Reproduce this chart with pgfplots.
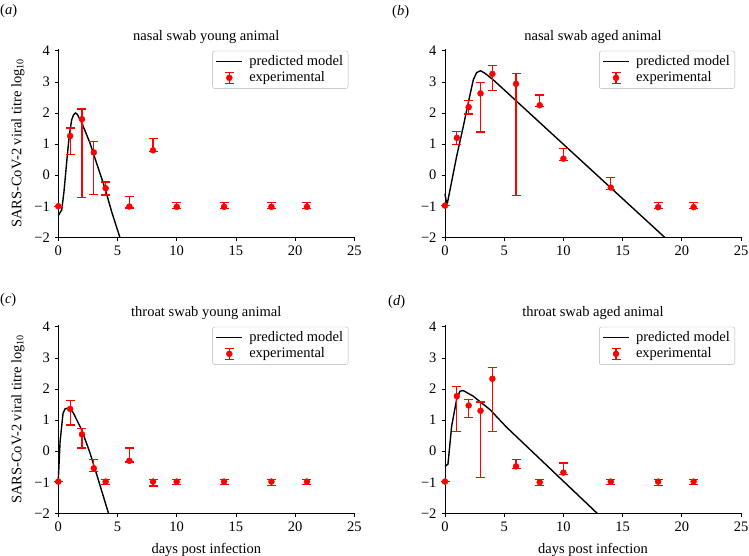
\documentclass[border=0pt]{standalone}
\usepackage{fontspec}
\setmainfont{Liberation Serif}
\usepackage{pgfplots}
\pgfplotsset{compat=1.18}
\usepackage{pgfplotstable}

% nasal swab young
\pgfplotstableread{
x y ep em
0 -1.00 0.00 0.00
1 1.26 0.26 0.59
2 1.80 0.33 2.53
3 0.73 0.36 1.35
4 -0.42 0.20 0.22
6 -1.01 0.32 0.05
8 0.80 0.38 0.05
10 -1.02 0.15 0.05
14 -1.02 0.15 0.05
18 -1.02 0.15 0.05
21 -1.02 0.15 0.05
}\dataA
\pgfplotstableread{
x y
0 -1.30
0.29 -1.12
0.48 -0.53
0.71 0.43
0.93 1.29
1.13 1.78
1.30 1.95
1.45 2.00
1.60 1.96
2.00 1.67
2.68 1.03
3.24 0.38
3.94 -0.42
4.51 -1.18
5.20 -2.00
}\modelA
% nasal swab aged
\pgfplotstableread{
x y ep em
0 -0.98 0.00 0.00
1 1.20 0.21 0.21
2 2.19 0.21 0.22
3 2.63 0.34 1.24
4 3.26 0.27 0.54
6 2.94 0.34 3.60
8 2.25 0.33 0.05
10 0.53 0.33 0.05
14 -0.40 0.32 0.05
18 -1.03 0.16 0.05
21 -1.03 0.16 0.05
}\dataB
\pgfplotstableread{
x y
0 -0.60
0.14 -0.92
0.20 -0.90
0.42 -0.48
0.98 0.60
1.54 1.56
1.96 2.32
2.39 3.07
2.67 3.30
3.00 3.36
3.37 3.28
4.07 3.07
18.55 -2.00
}\modelB
% throat swab young
\pgfplotstableread{
x y ep em
0 -0.98 0.00 0.00
1 1.36 0.28 0.52
2 0.54 0.20 0.44
3 -0.55 0.29 0.10
4 -0.98 0.08 0.09
6 -0.31 0.41 0.04
8 -0.98 0.08 0.14
10 -0.98 0.08 0.09
14 -0.98 0.08 0.09
18 -0.98 0.08 0.12
21 -0.98 0.08 0.09
}\dataC
\pgfplotstableread{
x y
0 -0.92
0.15 0.30
0.40 1.22
0.57 1.36
0.93 1.40
1.27 1.23
1.97 0.69
2.68 -0.06
3.38 -0.92
4.24 -2.00
}\modelC
% throat swab aged
\pgfplotstableread{
x y ep em
0 -0.98 0.00 0.00
1 1.77 0.30 1.15
2 1.47 0.19 0.38
3 1.30 0.28 2.14
4 2.33 0.36 1.69
6 -0.49 0.23 0.06
8 -1.00 0.08 0.10
10 -0.69 0.31 0.06
14 -0.98 0.08 0.10
18 -0.98 0.08 0.12
21 -0.98 0.08 0.09
}\dataD
\pgfplotstableread{
x y
0 -0.49
0.25 -0.42
0.56 0.80
0.98 1.66
1.26 1.93
1.54 1.95
2.38 1.77
3.79 1.34
5.20 0.77
7.16 0.06
12.85 -2.00
}\modelD

\pgfplotsset{
  myaxis/.style={
    scale only axis, width=296bp, height=188bp,
    xmin=0, xmax=25, ymin=-2, ymax=4.05,
    axis lines=left, axis line style={-, line width=0.8bp, black},
    tick align=outside, major tick length=3.5bp,
    tick style={black, line width=0.8bp},
    xtick={0,5,...,25}, xticklabels={0,5,10,15,20,25},
    ytick={-2,-1,0,1,2,3,4}, yticklabels={−2,−1,0,1,2,3,4},
    clip=false,
    title style={yshift=-5bp},
    xlabel style={yshift=-2bp},
    legend style={at={(1,1)}, anchor=north east, xshift=-6bp, yshift=-1.5bp,
      draw=gray!60, rounded corners=2bp, cells={anchor=west},
      inner xsep=3bp, inner ysep=2.5bp, row sep=0bp},
  },
  model/.style={black, line width=1.4bp, no marks,
    legend image code/.code={\draw[black, line width=1.4bp] (0bp,0bp) -- (26bp,0bp); \path[draw=none, fill=none] (0bp,0bp) -- (31bp,0bp);}},
  expt/.style={red, only marks, mark=*, mark size=3bp,
    legend image code/.code={\draw[red, line width=1.1bp] (13bp,-5.3bp) -- (13bp,5.3bp) (8.5bp,-5.3bp) -- (17.5bp,-5.3bp) (8.5bp,5.3bp) -- (17.5bp,5.3bp); \fill[red] (13bp,0bp) circle (3bp); \path[draw=none, fill=none] (0bp,0bp) -- (31bp,0bp);},
    error bars/.cd, y dir=both, y explicit,
    error bar style={red, line width=1.2bp},
    error mark options={rotate=90, red, mark size=4.5bp, line width=1.2bp}},
}

\begin{document}
\fontsize{14.5bp}{17bp}\selectfont
\begin{tikzpicture}
\path[use as bounding box] (0,0) rectangle (749bp,-556bp);

\begin{axis}[myaxis, at={(58.3bp,-237.3bp)}, anchor=south west,
  title={nasal swab young animal},
  ylabel={SARS-CoV-2 viral titre log\textsubscript{10}}]
\addplot[model] table[x=x,y=y] {\modelA};
\addlegendentry{predicted model\hspace{5bp}}
\addplot[expt] table[x=x,y=y,y error plus=ep,y error minus=em] {\dataA};
\addlegendentry{experimental}
\end{axis}

\begin{axis}[myaxis, at={(445bp,-237.3bp)}, anchor=south west,
  title={nasal swab aged animal}]
\addplot[model] table[x=x,y=y] {\modelB};
\addlegendentry{predicted model\hspace{5bp}}
\addplot[expt] table[x=x,y=y,y error plus=ep,y error minus=em] {\dataB};
\addlegendentry{experimental}
\end{axis}

\begin{axis}[myaxis, at={(58.3bp,-513.3bp)}, anchor=south west,
  title={throat swab young animal},
  xlabel={days post infection},
  ylabel={SARS-CoV-2 viral titre log\textsubscript{10}}]
\addplot[model] table[x=x,y=y] {\modelC};
\addlegendentry{predicted model\hspace{5bp}}
\addplot[expt] table[x=x,y=y,y error plus=ep,y error minus=em] {\dataC};
\addlegendentry{experimental}
\end{axis}

\begin{axis}[myaxis, at={(445bp,-513.3bp)}, anchor=south west,
  title={throat swab aged animal},
  xlabel={days post infection}]
\addplot[model] table[x=x,y=y] {\modelD};
\addlegendentry{predicted model\hspace{5bp}}
\addplot[expt] table[x=x,y=y,y error plus=ep,y error minus=em] {\dataD};
\addlegendentry{experimental}
\end{axis}

\node[anchor=north west, inner sep=0pt] at (0bp,-4bp) {(\textit{a})};
\node[anchor=north west, inner sep=0pt] at (392bp,-5bp) {(\textit{b})};
\node[anchor=north west, inner sep=0pt] at (0bp,-293bp) {(\textit{c})};
\node[anchor=north west, inner sep=0pt] at (388bp,-295bp) {(\textit{d})};
\end{tikzpicture}
\end{document}
